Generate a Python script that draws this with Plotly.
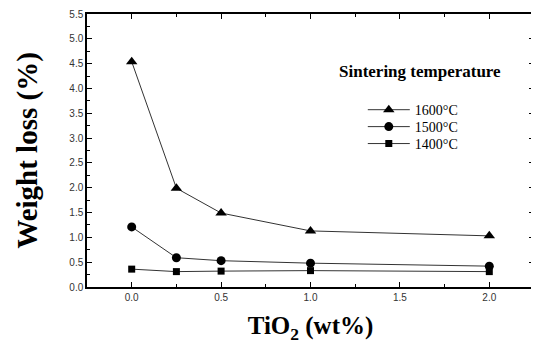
import plotly.graph_objects as go

tio2 = [0.0, 0.25, 0.5, 1.0, 2.0]
loss_1600 = [4.54, 1.99, 1.49, 1.13, 1.03]
loss_1500 = [1.21, 0.59, 0.53, 0.48, 0.42]
loss_1400 = [0.36, 0.31, 0.32, 0.33, 0.31]
series_names = ["1600°C", "1500°C", "1400°C"]
legend_title = "Sintering temperature"
x_ticks = [0.0, 0.5, 1.0, 1.5, 2.0]
x_ticklabels = ["0.0", "0.5", "1.0", "1.5", "2.0"]
y_ticks = [i * 0.5 for i in range(12)]
y_ticklabels = ["%.1f" % v for v in y_ticks]

SERIF = "Liberation Serif, Times New Roman, serif"
fig = go.Figure()
styles = [
    (loss_1600, "triangle-up", 10, "legend", 0.648),
    (loss_1500, "circle", 9, "legend2", 0.586),
    (loss_1400, "square", 7, "legend3", 0.524),
]
layout_legends = {}
for (ys, sym, sz, lg, ly), name in zip(styles, series_names):
    fig.add_trace(go.Scatter(
        x=tio2, y=ys, name=name, mode="lines+markers", legend=lg,
        showlegend=True,
        line=dict(color="#333", width=1),
        marker=dict(symbol=sym, size=sz, color="black"),
    ))
    layout_legends[lg] = dict(
        x=0.617, y=ly, xanchor="left", yanchor="middle", visible=True,
        bgcolor="rgba(0,0,0,0)", itemwidth=42,
        font=dict(family=SERIF, size=14, color="black"),
    )

axis_common = dict(
    showline=True, linecolor="black", linewidth=1.5, mirror="ticks",
    ticks="inside", ticklen=5, tickcolor="black", showgrid=False, zeroline=False,
    automargin=False,
    tickfont=dict(family="Arial, Liberation Sans", size=10, color="#333"),
)
fig.update_xaxes(
    range=[-0.25, 2.25], tickvals=x_ticks, ticktext=x_ticklabels,
    minor=dict(ticks="inside", ticklen=3, dtick=0.25, tickcolor="black"),
    title=dict(text="<b>TiO<sub>2</sub> (wt%)</b>", standoff=15,
               font=dict(family=SERIF, size=25, color="black")),
    **axis_common,
)
fig.update_yaxes(
    range=[0, 5.5], tickvals=y_ticks, ticktext=y_ticklabels,
    minor=dict(ticks="inside", ticklen=3, dtick=0.25, tickcolor="black"),
    title=dict(text="<b>Weight loss (%)</b>", standoff=23,
               font=dict(family=SERIF, size=29, color="black")),
    **axis_common,
)
fig.add_annotation(
    text="<b>" + legend_title + "</b>", xref="paper", yref="paper",
    x=0.745, y=0.788, xanchor="center", yanchor="middle", showarrow=False,
    font=dict(family=SERIF, size=17, color="black"),
)
fig.update_layout(
    width=531, height=337,
    margin=dict(l=79, r=5, t=6, b=58),
    plot_bgcolor="white", paper_bgcolor="white",
    showlegend=True,
    **layout_legends,
)
fig.write_html("out.html")
